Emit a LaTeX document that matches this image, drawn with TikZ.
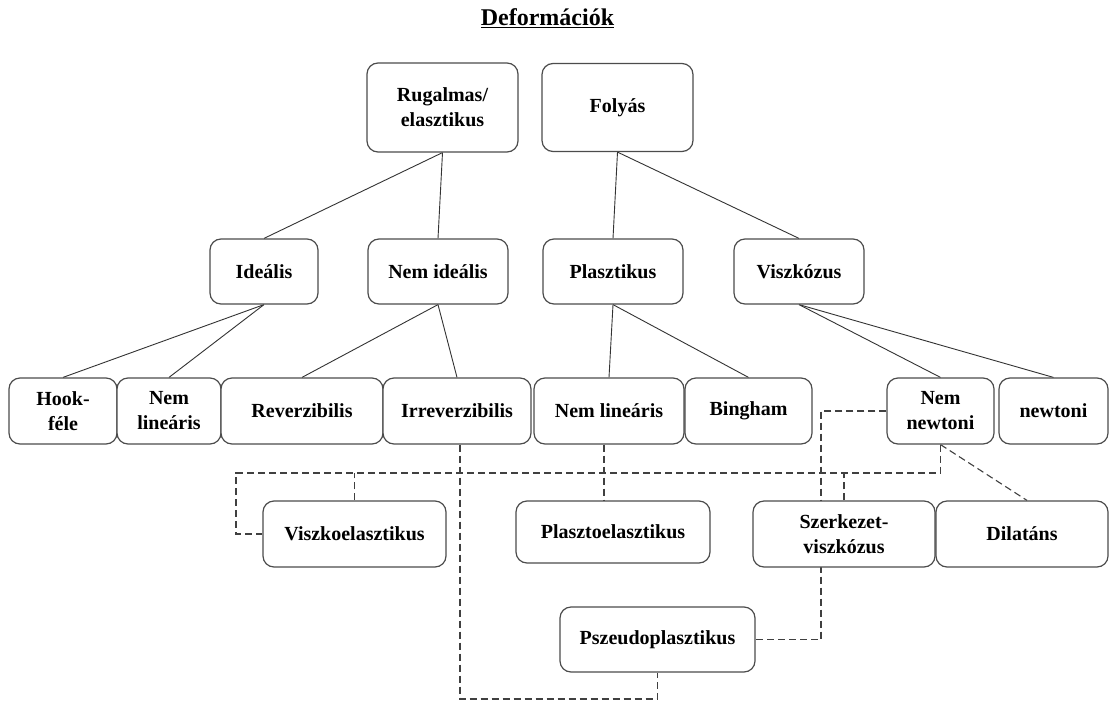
\documentclass[tikz,border=0pt]{standalone}
\usepackage{fontspec}
\setmainfont{Liberation Serif}
\usetikzlibrary{backgrounds}
\begin{document}
\begin{tikzpicture}[x=1pt,y=-1pt,
  box/.style={draw=black!70, line width=1.2pt, rounded corners=11pt, fill=white,
    inner sep=0pt, align=center, font=\fontsize{20}{25}\selectfont\bfseries},
  conn/.style={draw=black!80, line width=0.9pt},
  dconn/.style={draw=black!75, line width=1.1pt, dash pattern=on 7pt off 4pt}]
\begin{pgfonlayer}{background}
\path[fill=white] (0,0) rectangle (1110,701);
\end{pgfonlayer}
\useasboundingbox (0,0) rectangle (1110,701);

% title
\node[anchor=base, font=\fontsize{24}{28}\selectfont\bfseries] (title) at (547.5,26) {\underline{Deformációk}};

% row 1
\node[box, minimum width=151pt, minimum height=89pt] (rug) at (442.5,107.5) {Rugalmas/\\elasztikus};
\node[box, minimum width=151pt, minimum height=88pt] (foly) at (617.5,107.5) {Folyás};

% row 2
\node[box, minimum width=108pt, minimum height=65pt] (ideal) at (264,271.5) {Ideális};
\node[box, minimum width=140pt, minimum height=65pt] (nemid) at (438,271.5) {Nem ideális};
\node[box, minimum width=140pt, minimum height=65pt] (plaszt) at (613,271.5) {Plasztikus};
\node[box, minimum width=130pt, minimum height=65pt] (viszk) at (799,271.5) {Viszkózus};

% row 3
\node[box, minimum width=108pt, minimum height=66pt] (hook) at (63,411) {Hook-\\féle};
\node[box, minimum width=104pt, minimum height=66pt] (nl1) at (169,411) {Nem\\lineáris};
\node[box, minimum width=162pt, minimum height=66pt] (rev) at (302,411) {Reverzibilis};
\node[box, minimum width=148pt, minimum height=66pt] (irrev) at (457,411) {Irreverzibilis};
\node[box, minimum width=150pt, minimum height=66pt] (nl2) at (609,411) {Nem lineáris};
\node[box, minimum width=127pt, minimum height=66pt] (bing) at (748.5,411) {Bingham};
\node[box, minimum width=107pt, minimum height=66pt] (nn) at (940.5,411) {Nem\\newtoni};
\node[box, minimum width=109pt, minimum height=66pt] (newt) at (1053.5,411) {newtoni};

% row 4
\node[box, minimum width=183pt, minimum height=66pt] (vk) at (354.5,534) {Viszkoelasztikus};
\node[box, minimum width=194pt, minimum height=62pt] (po) at (613,532) {Plasztoelasztikus};
\node[box, minimum width=182pt, minimum height=66pt] (szerk) at (844,534) {Szerkezet-\\viszkózus};
\node[box, minimum width=172pt, minimum height=66pt] (dil) at (1022,534) {Dilatáns};

% row 5
\node[box, minimum width=195pt, minimum height=65pt] (psz) at (657.5,639.5) {Pszeudoplasztikus};

% helper coordinates
\coordinate (bot) at (0,699);
\coordinate (ix) at (460,0);
\coordinate (jx) at (821,0);
\coordinate (lx) at (236,0);
\coordinate (mid) at (0,473);
\coordinate (px) at (604,0);

\begin{pgfonlayer}{background}
% solid connectors
\draw[conn] (rug.south) -- (ideal.north);
\draw[conn] (rug.south) -- (nemid.north);
\draw[conn] (foly.south) -- (plaszt.north);
\draw[conn] (foly.south) -- (viszk.north);
\draw[conn] (ideal.south) -- (hook.north);
\draw[conn] (ideal.south) -- (nl1.north);
\draw[conn] (nemid.south) -- (rev.north);
\draw[conn] (nemid.south) -- (irrev.north);
\draw[conn] (plaszt.south) -- (nl2.north);
\draw[conn] (plaszt.south) -- (bing.north);
\draw[conn] (viszk.south) -- (nn.north);
\draw[conn] (viszk.south) -- (newt.north);

% dashed connectors
\draw[dconn] (irrev.south -| ix) |- (psz.south |- bot) -- (psz.south);
\draw[dconn] (nn.west) -| (jx |- psz.east) -- (psz.east);
\draw[dconn] (nn.south) |- (lx |- mid) |- (vk.west);
\draw[dconn] (vk.north) -- (vk.north |- mid);
\draw[dconn] (szerk.north) -- (szerk.north |- mid);
\draw[dconn] (nl2.south -| px) -- (po.north -| px);
\draw[dconn] (nn.south) -- ([xshift=5pt]dil.north);
\end{pgfonlayer}
\end{tikzpicture}
\end{document}
